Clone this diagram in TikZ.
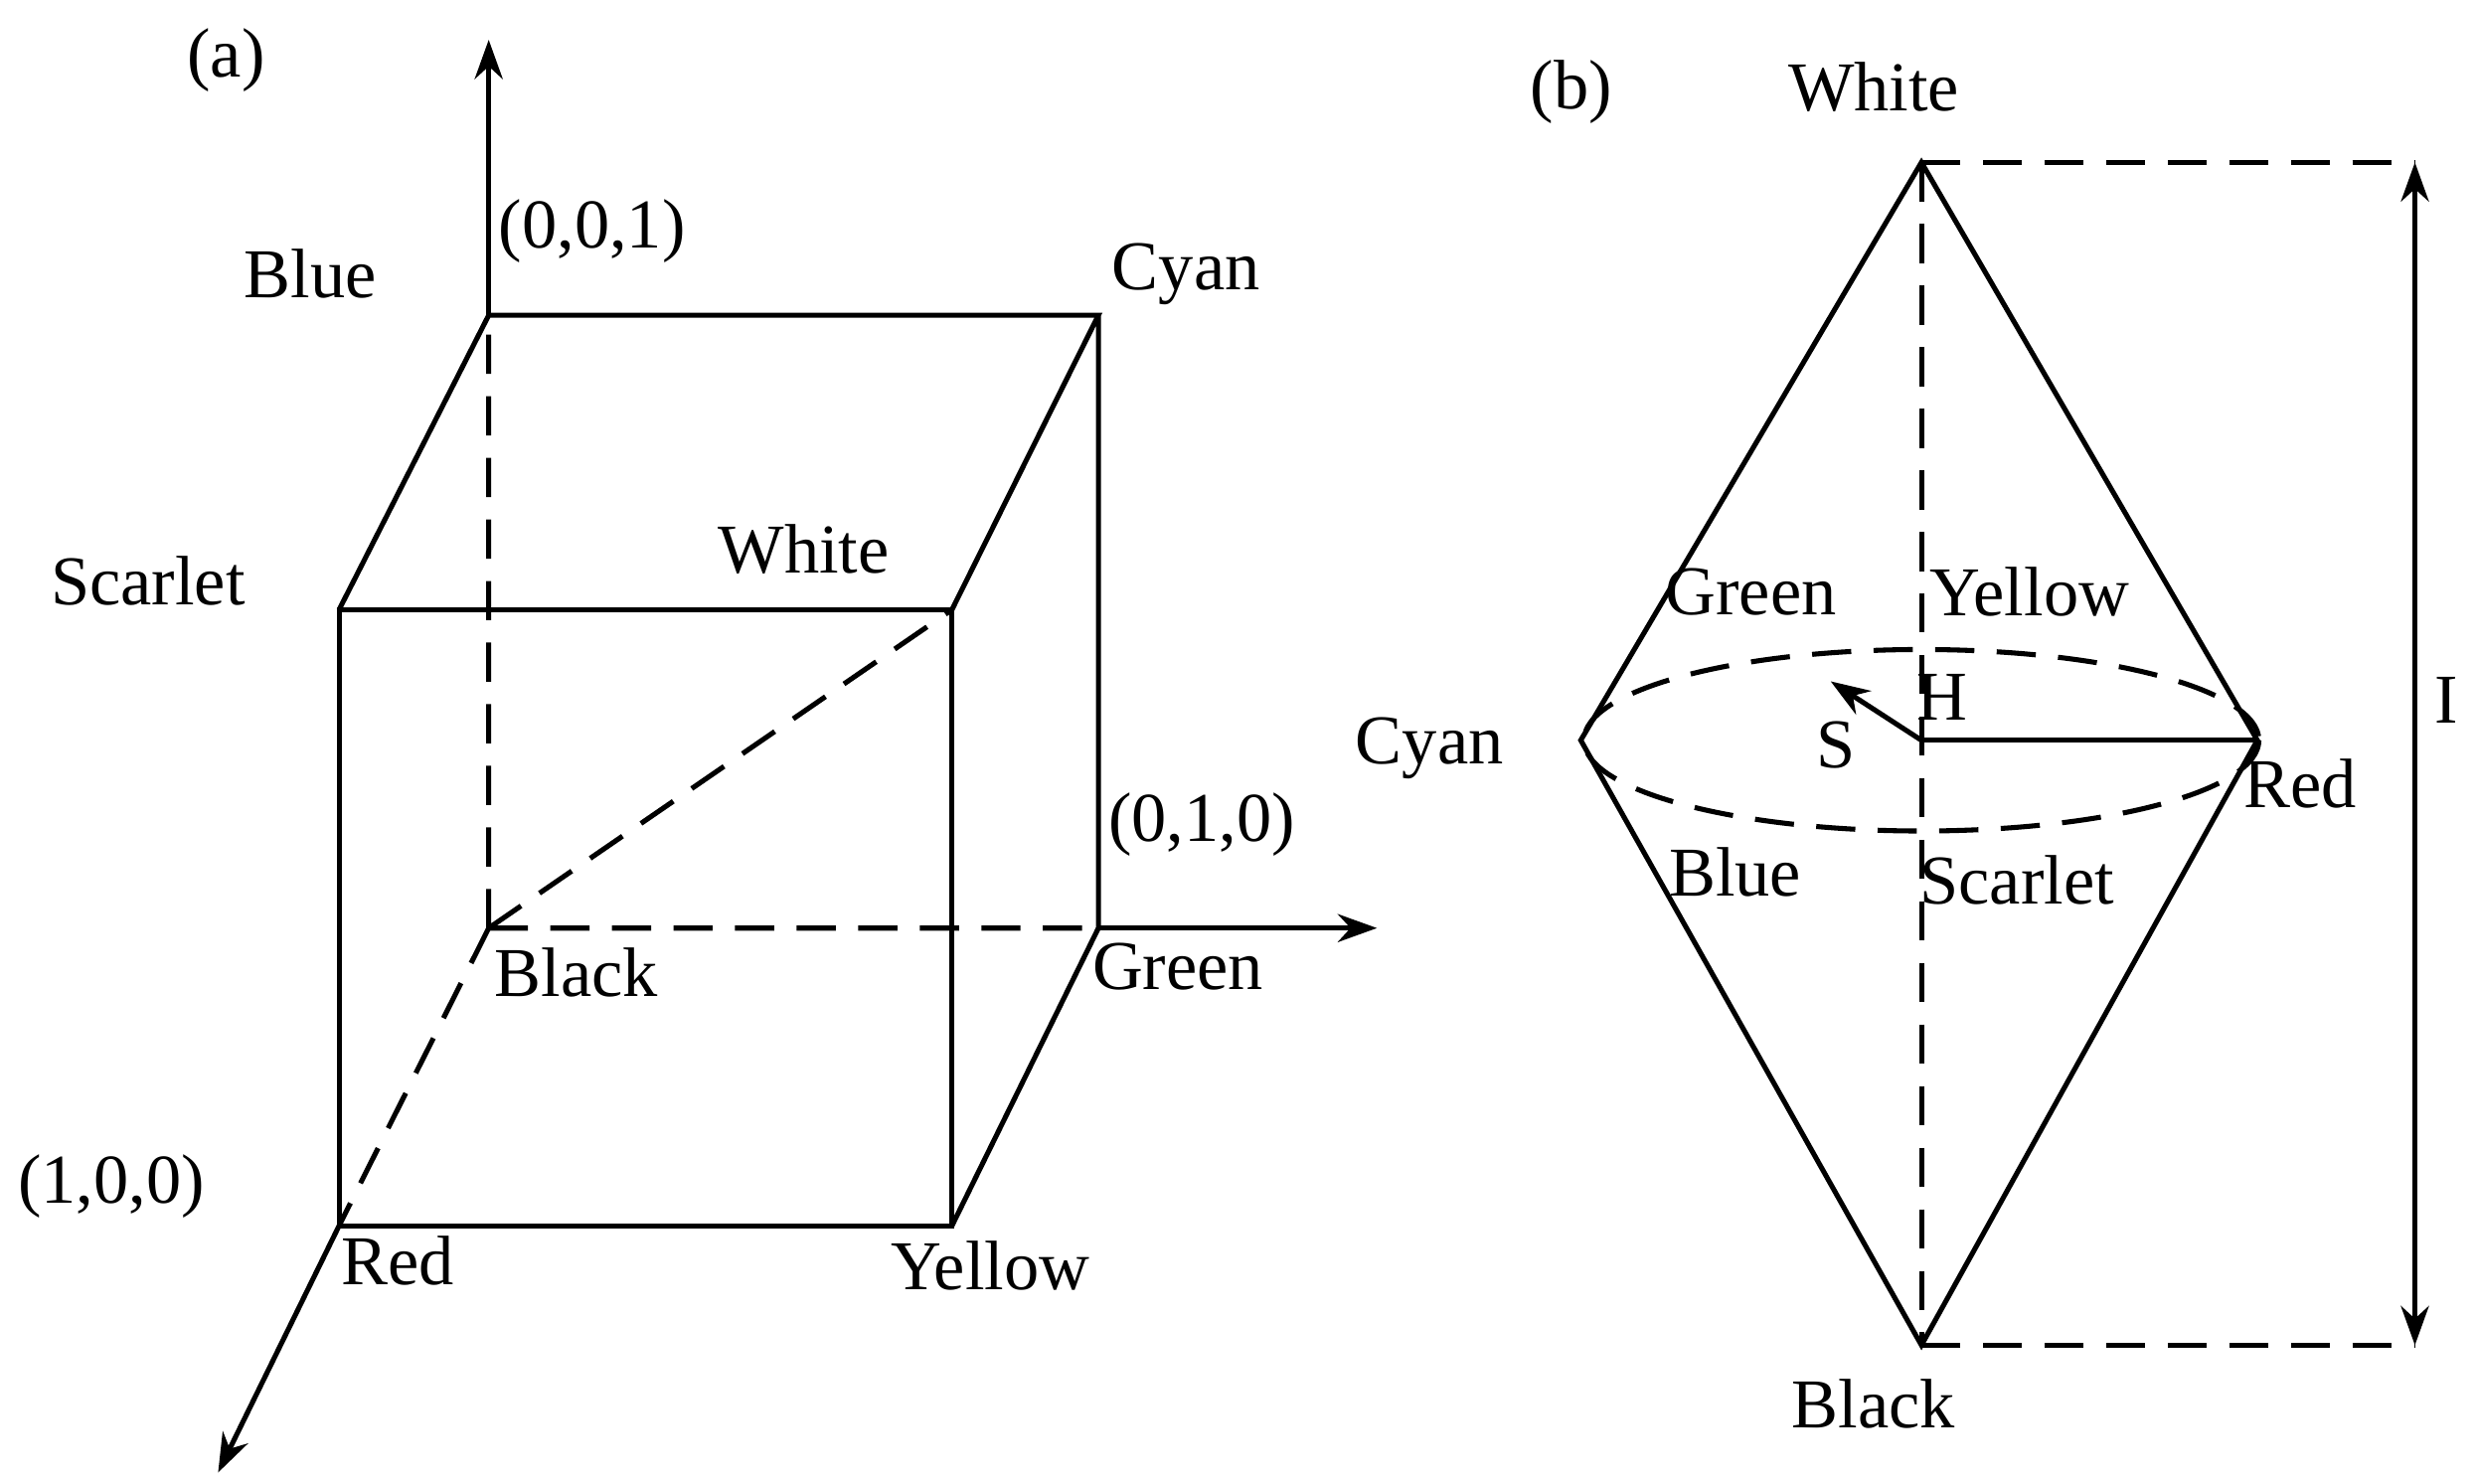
\documentclass[tikz,border=0pt]{standalone}
\usepackage{fontspec}
\setmainfont{Liberation Serif}
\usetikzlibrary{arrows.meta}
\begin{document}
\begin{tikzpicture}[x=0.01cm,y=-0.01cm,line width=0.9pt,
  lbl/.style={font=\fontsize{12.5}{14}\selectfont,inner sep=0pt},
  dsh/.style={dash pattern=on 7pt off 4pt},
  arr/.style={-{Stealth[length=7pt,width=5pt]}}]
\useasboundingbox (0,0) rectangle (1556,932);
% (a) cube
\coordinate (K) at (307,583);
\coordinate (B) at (307,198);
\coordinate (C) at (690,198);
\coordinate (S) at (213,383);
\coordinate (W) at (598,383);
\coordinate (R) at (213,770);
\coordinate (Y) at (598,770);
\coordinate (G) at (690,583);
\coordinate (zt) at (307,25);
\coordinate (yt) at (865,583);
\coordinate (xt) at (137,925);
\draw[arr] (B) -- (zt);
\draw[arr] (G) -- (yt);
\draw[arr] (R) -- (xt);
\draw[dsh] (K) -- (B) (K) -- (G) (K) -- (W) (K) -- (R);
\draw (S) -- (B) -- (C) -- (W) (C) -- (G) -- (Y);
\draw (S) rectangle (Y);
\node[lbl] at (142,38) {(a)};
\node[lbl] at (195,172) {Blue};
\node[lbl] at (372,145) {(0,0,1)};
\node[lbl] at (745,172) {Cyan};
\node[lbl] at (93,365) {Scarlet};
\node[lbl] at (505,345) {White};
\node[lbl] at (755,518) {(0,1,0)};
\node[lbl] at (740,607) {Green};
\node[lbl] at (362,611) {Black};
\node[lbl] at (70,745) {(1,0,0)};
\node[lbl] at (250,792) {Red};
\node[lbl] at (622,795) {Yellow};
% (b) double cone
\coordinate (bW) at (1207,102);
\coordinate (bK) at (1207,845);
\coordinate (bC) at (993,465);
\coordinate (bR) at (1418,465);
\coordinate (bO) at (1207,465);
\coordinate (bS) at (1150,428);
\coordinate (iT) at (1517,102);
\coordinate (iB) at (1517,845);
\draw (bW) -- (bC) -- (bK) -- (bR) -- cycle;
\draw[dsh] (bO) ellipse [x radius=212, y radius=57];
\draw[dsh] (bW) -- (bK);
\draw (bO) -- (bR);
\draw[arr] (bO) -- (bS);
\draw[dsh] (bW) -- (iT) (bK) -- (iB);
\draw[{Stealth[length=7pt,width=5pt]}-{Stealth[length=7pt,width=5pt]}] (iT) -- (iB);
\node[lbl] at (987,58) {(b)};
\node[lbl] at (1177,55) {White};
\node[lbl] at (1100,372) {Green};
\node[lbl] at (1275,372) {Yellow};
\node[lbl] at (1220,438) {H};
\node[lbl] at (1153,468) {S};
\node[lbl] at (898,470) {Cyan};
\node[lbl] at (1445,492) {Red};
\node[lbl] at (1090,548) {Blue};
\node[lbl] at (1267,553) {Scarlet};
\node[lbl] at (1177,882) {Black};
\node[lbl] at (1537,440) {I};
\end{tikzpicture}
\end{document}
